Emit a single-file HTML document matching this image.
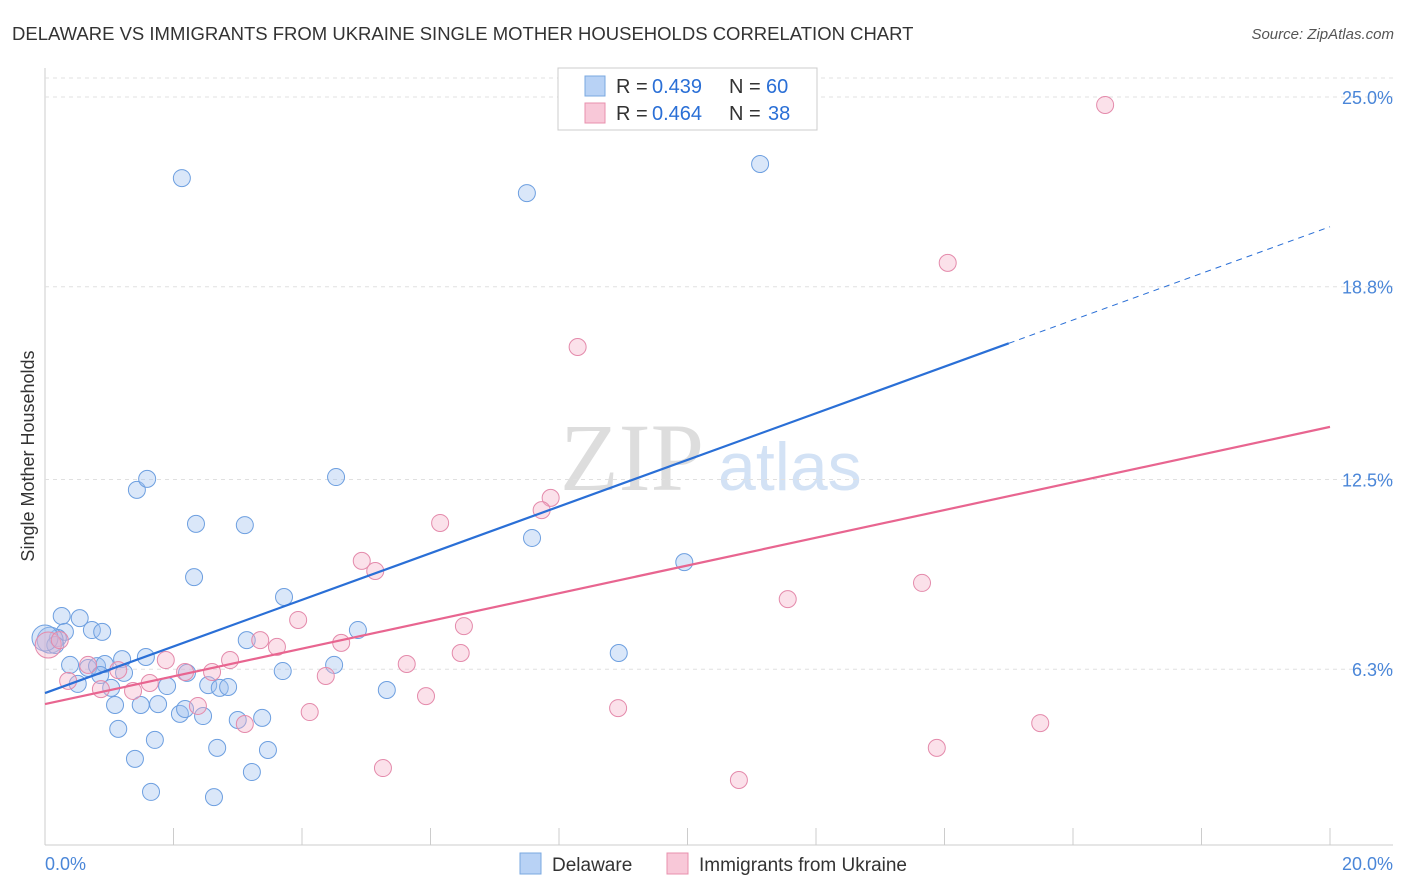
<!DOCTYPE html>
<html><head><meta charset="utf-8">
<style>
body{margin:0;background:#fff;font-family:"Liberation Sans",sans-serif;}
#wrap{position:relative;width:1406px;height:892px;overflow:hidden;}
</style></head>
<body>
<div id="wrap">
<svg id="svg" width="1406" height="892" xmlns="http://www.w3.org/2000/svg">
<text x="12" y="40" font-size="18.5" fill="#333">DELAWARE VS IMMIGRANTS FROM UKRAINE SINGLE MOTHER HOUSEHOLDS CORRELATION CHART</text>
<text x="1394" y="39" font-size="15" fill="#555" font-style="italic" text-anchor="end">Source: ZipAtlas.com</text>
<text x="34" y="456" font-size="18" fill="#333" text-anchor="middle" transform="rotate(-90 34 456)">Single Mother Households</text>
<text x="560" y="490" font-size="96" fill="#ddd" font-family="Liberation Serif,serif">ZIP</text>
<text x="718" y="490" font-size="68" fill="#d3e2f5">atlas</text>
<g id="grid"></g><g id="pts"></g><g id="lines"></g>
<g>
<rect x="558" y="68" width="259" height="62" fill="#fff" stroke="#ccc"/>
<rect x="585" y="76" width="20" height="20" fill="#b8d2f5" stroke="#7aa8e0"/>
<text x="616" y="93" font-size="20" fill="#333">R = </text>
<text x="652" y="93" font-size="20" fill="#2a6fd6">0.439</text>
<text x="729" y="93" font-size="20" fill="#333">N = </text>
<text x="766" y="93" font-size="20" fill="#2a6fd6">60</text>
<rect x="585" y="103" width="20" height="20" fill="#f8c8d8" stroke="#e890ae"/>
<text x="616" y="120" font-size="20" fill="#333">R = </text>
<text x="652" y="120" font-size="20" fill="#2a6fd6">0.464</text>
<text x="729" y="120" font-size="20" fill="#333">N = </text>
<text x="768" y="120" font-size="20" fill="#2a6fd6">38</text>
</g>
<g>
<rect x="520" y="853" width="21" height="21" fill="#b8d2f5" stroke="#7aa8e0"/>
<text x="552" y="871" font-size="19" fill="#333">Delaware</text>
<rect x="667" y="853" width="21" height="21" fill="#f8c8d8" stroke="#e890ae"/>
<text x="699" y="871" font-size="19" fill="#333">Immigrants from Ukraine</text>
</g>
</svg>
</div>
<script>
const yTicks=[25.0,18.8,12.5,6.3];
const yTickLabels=["25.0%","18.8%","12.5%","6.3%"];
const xTickLabels=["0.0%","20.0%"];
const delX=[2.13,7.50,11.13,1.43,1.59,2.35,3.11,4.53,7.58,9.95,2.32,3.72,4.87,3.14,8.93,0.26,0.54,0.31,0.73,0.89,0.20,0.08,0.16,0.39,0.67,0.81,0.93,1.20,1.57,0.86,1.23,0.51,1.03,1.90,2.21,2.54,2.72,2.85,3.70,4.50,5.32,1.09,1.49,1.76,2.10,2.18,2.46,3.00,3.38,1.14,1.71,2.68,3.47,1.40,3.22,1.65,2.63,0.0];
const delY=[22.35,21.86,22.81,12.16,12.52,11.05,11.01,12.58,10.59,9.80,9.31,8.66,7.58,7.25,6.83,8.04,7.97,7.52,7.58,7.52,7.32,7.25,7.09,6.44,6.34,6.40,6.47,6.63,6.70,6.11,6.18,5.82,5.69,5.75,6.18,5.78,5.69,5.72,6.24,6.44,5.62,5.13,5.13,5.16,4.84,5.00,4.77,4.64,4.71,4.35,3.99,3.73,3.66,3.37,2.94,2.29,2.12,7.32];
const ukrX=[16.50,14.05,8.29,7.87,7.73,6.15,4.93,5.14,13.65,11.56,6.52,3.94,3.35,3.61,4.61,6.47,0.05,0.23,0.67,1.88,2.88,2.60,2.18,1.14,0.36,1.63,0.87,1.37,5.63,4.37,5.93,2.38,4.12,3.11,8.92,15.49,13.88,5.26,10.80];
const ukrY=[24.74,19.58,16.83,11.90,11.50,11.08,9.84,9.51,9.12,8.59,7.71,7.91,7.25,7.03,7.16,6.83,7.09,7.25,6.44,6.60,6.60,6.21,6.21,6.27,5.92,5.85,5.65,5.59,6.47,6.08,5.42,5.10,4.90,4.51,5.03,4.54,3.73,3.07,2.68];
const delTrend=[5.52,0.762];
const ukrTrend=[5.16,0.453];
const X=v=>45+v*64.25, Y=v=>97+(25-v)*30.6;
const NS="http://www.w3.org/2000/svg";
function mk(t,a,p){const e=document.createElementNS(NS,t);for(const k in a)e.setAttribute(k,a[k]);p.appendChild(e);return e;}
const grid=document.getElementById('grid');
mk('line',{x1:45,y1:68,x2:45,y2:845,stroke:'#ccc'},grid);
mk('line',{x1:45,y1:845,x2:1393,y2:845,stroke:'#ccc'},grid);
mk('line',{x1:45,y1:78,x2:1393,y2:78,stroke:'#e0e0e0','stroke-dasharray':'4,4'},grid);
yTicks.forEach((v,i)=>{
 const l=mk('line',{x1:45,y1:Y(v),x2:1393,y2:Y(v),stroke:'#e0e0e0','stroke-dasharray':'4,4'},grid);
 
 
 const t=mk('text',{x:1393,y:Y(v)+7,'font-size':18,fill:'#4a86d8','text-anchor':'end'},grid);
 t.textContent=yTickLabels[i];
 
 
});
for(let i=1;i<=10;i++){const l=mk('line',{x1:X(i*2),y1:828,x2:X(i*2),y2:845,stroke:'#ccc'},grid);
 
 }
[[0,'start',45],[20,'end',1393]].forEach((d,i)=>{const t=mk('text',{x:d[2],y:870,'font-size':18,fill:'#4a86d8','text-anchor':d[1]},grid);t.textContent=xTickLabels[i];
 
 });
const pts=document.getElementById('pts');
function draw(xs,ys,fill,stroke,name){xs.forEach((x,i)=>{const big=x<0.1;
 const c=mk('circle',{cx:X(x),cy:Y(ys[i]),r:big?13:8.5,fill:fill,'fill-opacity':0.38,stroke:stroke,'stroke-width':1},pts);
 
 });}
draw(delX,delY,'#9ec0ef','#6d9fe0','delaware-point');
draw(ukrX,ukrY,'#f5b0c8','#e48aab','ukraine-point');
const lines=document.getElementById('lines');
const b1=mk('line',{x1:X(0),y1:Y(delTrend[0]),x2:X(15),y2:Y(delTrend[0]+15*delTrend[1]),stroke:'#2a6fd6','stroke-width':2.2},lines);


const b2=mk('line',{x1:X(15),y1:Y(delTrend[0]+15*delTrend[1]),x2:X(20),y2:Y(delTrend[0]+20*delTrend[1]),stroke:'#2a6fd6','stroke-width':1,'stroke-dasharray':'6,5'},lines);


const p1=mk('line',{x1:X(0),y1:Y(ukrTrend[0]),x2:X(20),y2:Y(ukrTrend[0]+20*ukrTrend[1]),stroke:'#e86590','stroke-width':2.2},lines);


</script>
</body></html>
